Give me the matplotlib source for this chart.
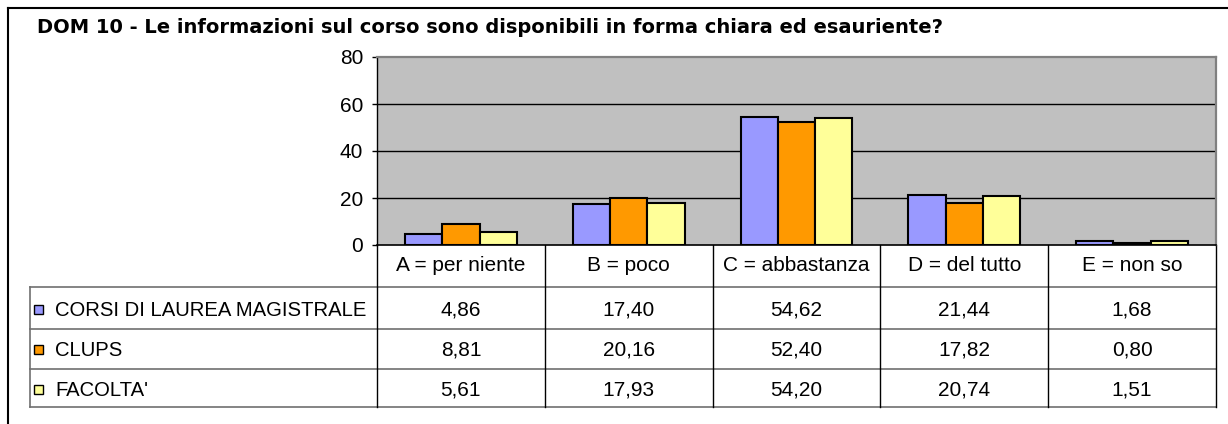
import matplotlib
matplotlib.use("Agg")
import matplotlib.pyplot as plt
from matplotlib.patches import Rectangle
from matplotlib.lines import Line2D
from matplotlib.transforms import blended_transform_factory
import numpy as np

title = "DOM 10 - Le informazioni sul corso sono disponibili in forma chiara ed esauriente?"
categories = ["A = per niente", "B = poco", "C = abbastanza", "D = del tutto", "E = non so"]
series_names = ["CORSI DI LAUREA MAGISTRALE", "CLUPS", "FACOLTA'"]
corsi = [4.86, 17.40, 54.62, 21.44, 1.68]
clups = [8.81, 20.16, 52.40, 17.82, 0.80]
facolta = [5.61, 17.93, 54.20, 20.74, 1.51]
colors = ["#9999FF", "#FF9900", "#FFFF99"]
yticks = [0, 20, 40, 60, 80]

plt.rcParams['font.family'] = ['Liberation Sans', 'DejaVu Sans']
FS = 15

W, H = 1228, 424
fig = plt.figure(figsize=(W / 100, H / 100), dpi=100)
fig.patch.set_facecolor('white')

# pixel-coordinate overlay
ov = fig.add_axes([0, 0, 1, 1])
ov.set_xlim(0, W)
ov.set_ylim(H, 0)
ov.axis('off')

px_left, px_right, px_top, px_bottom = 377, 1216, 57, 245
ax = fig.add_axes([px_left / W, 1 - px_bottom / H, (px_right - px_left) / W, (px_bottom - px_top) / H])
ax.set_facecolor('#C0C0C0')

series = [corsi, clups, facolta]
n = len(categories)
x = np.arange(n)
group = 2 / 3
bw = group / len(series)
for i, (vals, c) in enumerate(zip(series, colors)):
    ax.bar(x - group / 2 + bw * (i + 0.5), vals, width=bw, color=c, edgecolor='black', linewidth=1.5, zorder=3)

ax.set_xlim(-0.5, n - 0.5)
ax.set_ylim(0, 80)
ax.set_yticks(yticks)
ax.set_yticklabels([str(t) for t in yticks], fontsize=FS)
ax.set_xticks([])
ax.tick_params(axis='y', direction='out', length=3.6, width=1, pad=6.3, colors='black')
for t in yticks[1:-1]:
    ax.axhline(t, color='black', lw=1, zorder=1)
ax.spines['top'].set_color('#808080')
ax.spines['right'].set_color('#808080')
ax.spines['top'].set_linewidth(1.6)
ax.spines['right'].set_linewidth(1.6)
ax.spines['left'].set_color('black')
ax.spines['left'].set_linewidth(1)
ax.spines['bottom'].set_color('black')
ax.spines['bottom'].set_linewidth(1.2)

# title
ov.text(37, 33, title, fontsize=14, fontweight='bold', family='DejaVu Sans', ha='left', va='baseline')

# outer frame (partial)
ov.add_line(Line2D([8, W], [8, 8], color='black', lw=1.5))
ov.add_line(Line2D([8, 8], [8, H], color='black', lw=1.5))

# data table
bt = blended_transform_factory(ax.transData, ov.transData)
row_lines = [287, 329, 369, 407]
tbl_left = 30
for y in row_lines:
    ov.add_line(Line2D([tbl_left, px_right], [y, y], color='#707070', lw=1.2))
ov.add_line(Line2D([tbl_left, tbl_left], [row_lines[0], row_lines[-1]], color='#707070', lw=1.2))
for b in np.arange(n + 1) - 0.5:
    ov.add_line(Line2D([b, b], [px_bottom, row_lines[-1]], color='black', lw=1, transform=bt, clip_on=False))

header_base = 271
for i, cat in enumerate(categories):
    ov.text(x[i], header_base, cat, fontsize=FS, ha='center', va='baseline', transform=bt, clip_on=False)

row_bases = [316, 356, 396]
row_centers = [309, 349, 389]
for r, (name, vals, c) in enumerate(zip(series_names, series, colors)):
    ov.add_patch(Rectangle((34, row_centers[r] - 4.5), 9, 9, facecolor=c, edgecolor='black', lw=1))
    ov.text(55, row_bases[r], name, fontsize=14.6, ha='left', va='baseline')
    for i, v in enumerate(vals):
        ov.text(x[i], row_bases[r], f"{v:.2f}".replace('.', ','), fontsize=FS, ha='center', va='baseline',
                transform=bt, clip_on=False)

fig.savefig("out.png", dpi=100)
